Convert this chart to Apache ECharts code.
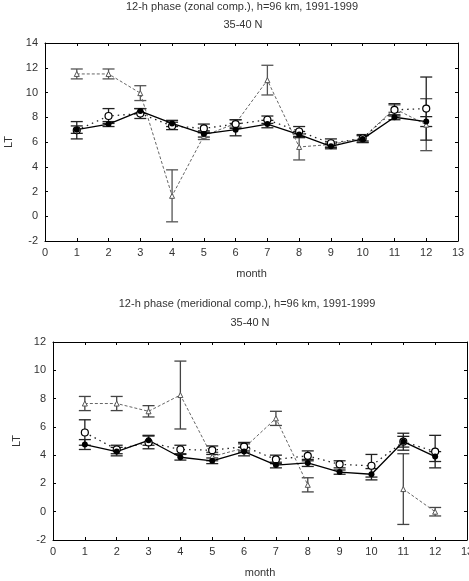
<!DOCTYPE html>
<html>
<head>
<meta charset="utf-8">
<script src="https://cdn.jsdelivr.net/npm/echarts@6/dist/echarts.min.js"></script>
<style>
  html, body { margin: 0; padding: 0; background: #fff; }
  #main { width: 469px; height: 581px; }
</style>
</head>
<body>
<div id="main"></div>
<script>
var months = [1, 2, 3, 4, 5, 6, 7, 8, 9, 10, 11, 12];

// zonal component
var zonalA    = [7.0, 7.45, 8.5, 7.5, 6.65, 7.0, 7.45, 6.6, 5.65, 6.25, 8.0, 7.65];
var zonalAErr = [0.3, 0.2, 0.2, 0.25, 0.25, 0.5, 0.3, 0.25, 0.2, 0.3, 0.2, 0.4];
var zonalB    = [6.95, 8.1, 8.3, 7.3, 7.1, 7.45, 7.8, 6.85, 5.9, 6.3, 8.6, 8.7];
var zonalBErr = [0.7, 0.6, 0.4, 0.3, 0.35, 0.35, 0.3, 0.4, 0.35, 0.3, 0.5, 2.55];
var zonalC    = [11.5, 11.5, 9.95, 1.65, 6.5, 7.5, 11.0, 5.6, 5.8, 6.3, 8.7, 7.4];
var zonalCErr = [0.4, 0.4, 0.6, 2.1, 0.3, 0.3, 1.2, 1.05, 0.2, 0.2, 0.3, 2.1];

// meridional component
var merA    = [4.75, 4.25, 5.05, 3.85, 3.6, 4.25, 3.3, 3.45, 2.8, 2.65, 4.95, 3.9];
var merAErr = [0.35, 0.3, 0.35, 0.2, 0.2, 0.3, 0.2, 0.25, 0.15, 0.4, 0.38, 0.35];
var merB    = [5.6, 4.4, 4.9, 4.4, 4.35, 4.6, 3.7, 3.95, 3.35, 3.25, 4.95, 4.25];
var merBErr = [0.9, 0.3, 0.45, 0.3, 0.3, 0.3, 0.3, 0.35, 0.25, 0.8, 0.6, 1.15];
var merC    = [7.65, 7.65, 7.1, 8.25, 3.9, 4.5, 6.6, 1.9, null, null, 1.6, 0.0];
var merCErr = [0.5, 0.5, 0.4, 2.4, 0.3, 0.3, 0.5, 0.5, null, null, 2.5, 0.3];

var font = 'Liberation Sans, Arial, sans-serif';

var pairs = function(vals) {
  return months.map(function(m, i) { return [m, vals[i]]; });
};

var errRows = function(vals, errs) {
  var out = [];
  months.forEach(function(m, i) {
    if (vals[i] != null) out.push([m, vals[i], errs[i]]);
  });
  return out;
};

var errSeries = function(idx, vals, errs, color) {
  return {
    type: 'custom',
    xAxisIndex: idx * 2,
    yAxisIndex: idx * 2,
    z: 2,
    silent: true,
    data: errRows(vals, errs),
    renderItem: function(params, api) {
      var m = api.value(0), v = api.value(1), e = api.value(2);
      var top = api.coord([m, v + e]);
      var bot = api.coord([m, v - e]);
      var w = 6;
      var st = { stroke: color, lineWidth: 1.3 };
      return {
        type: 'group',
        children: [
          { type: 'line', shape: { x1: top[0], y1: top[1], x2: bot[0], y2: bot[1] }, style: st },
          { type: 'line', shape: { x1: top[0] - w, y1: top[1], x2: top[0] + w, y2: top[1] }, style: st },
          { type: 'line', shape: { x1: bot[0] - w, y1: bot[1], x2: bot[0] + w, y2: bot[1] }, style: st }
        ]
      };
    }
  };
};

var lineSeries = function(idx, vals, kind) {
  var s = {
    type: 'line',
    xAxisIndex: idx * 2,
    yAxisIndex: idx * 2,
    z: 3,
    data: pairs(vals),
    connectNulls: false,
    silent: true
  };
  if (kind === 'A') {
    s.symbol = 'circle';
    s.symbolSize = 6;
    s.itemStyle = { color: '#000' };
    s.lineStyle = { color: '#000', width: 1.3 };
  } else if (kind === 'B') {
    s.symbol = 'circle';
    s.symbolSize = 7;
    s.itemStyle = { color: '#fff', borderColor: '#000', borderWidth: 1.2 };
    s.lineStyle = { color: '#222', width: 1.3, type: [1.5, 4] };
  } else {
    s.symbol = 'triangle';
    s.symbolSize = 5;
    s.itemStyle = { color: '#fff', borderColor: '#555', borderWidth: 1 };
    s.lineStyle = { color: '#666', width: 1, type: [3, 2] };
  }
  return s;
};

var xAxes = function(gi) {
  return [{
    gridIndex: gi, type: 'value', min: 0, max: 13, interval: 1,
    name: 'month', nameLocation: 'middle', nameGap: 27,
    nameTextStyle: { fontFamily: font, fontSize: 11, color: '#333' },
    axisLine: { onZero: false, lineStyle: { color: '#000', width: 1 } },
    axisTick: { inside: true, length: 3, lineStyle: { color: '#000' } },
    axisLabel: { fontFamily: font, fontSize: 11, color: '#333', margin: 6 },
    splitLine: { show: false }
  }, {
    gridIndex: gi, type: 'value', position: 'top', min: 0, max: 13, interval: 1,
    axisLine: { onZero: false, lineStyle: { color: '#000', width: 1 } },
    axisTick: { inside: true, length: 3, lineStyle: { color: '#000' } },
    axisLabel: { show: false },
    splitLine: { show: false }
  }];
};

var yAxes = function(gi, max, gap) {
  return [{
    gridIndex: gi, type: 'value', min: -2, max: max, interval: 2,
    name: 'LT', nameLocation: 'middle', nameGap: gap, nameRotate: 90,
    nameTextStyle: { fontFamily: font, fontSize: 11, color: '#333' },
    axisLine: { show: true, onZero: false, lineStyle: { color: '#000', width: 1 } },
    axisTick: { show: true, inside: true, length: 3, lineStyle: { color: '#000' } },
    axisLabel: { fontFamily: font, fontSize: 11, color: '#333', margin: 7 },
    splitLine: { show: false }
  }, {
    gridIndex: gi, type: 'value', position: 'right', min: -2, max: max, interval: 2,
    axisLine: { show: true, onZero: false, lineStyle: { color: '#000', width: 1 } },
    axisTick: { show: true, inside: true, length: 3, lineStyle: { color: '#000' } },
    axisLabel: { show: false },
    splitLine: { show: false }
  }];
};

var titleText = function(txt, x, y) {
  return {
    type: 'text', x: x, y: y,
    style: { text: txt, font: '11px ' + font, fill: '#333', textAlign: 'center', textVerticalAlign: 'middle' }
  };
};

var chart = echarts.init(document.getElementById('main'));

var option = {
  animation: false,
  backgroundColor: '#fff',
  grid: [
    { left: 45, top: 43, width: 413, height: 198, outerBoundsMode: 'none', containLabel: false },
    { left: 53, top: 342, width: 414, height: 198, outerBoundsMode: 'none', containLabel: false }
  ],
  xAxis: xAxes(0).concat(xAxes(1)),
  yAxis: yAxes(0, 14, 28).concat(yAxes(1, 12, 30)),
  graphic: [
    titleText('12-h phase (zonal comp.), h=96 km, 1991-1999', 242, 7),
    titleText('35-40 N', 243, 25),
    titleText('12-h phase (meridional comp.), h=96 km, 1991-1999', 247, 304),
    titleText('35-40 N', 250, 323)
  ],
  series: [
    errSeries(0, zonalC, zonalCErr, '#555'),
    errSeries(0, zonalB, zonalBErr, '#222'),
    errSeries(0, zonalA, zonalAErr, '#222'),
    lineSeries(0, zonalC, 'C'),
    lineSeries(0, zonalB, 'B'),
    lineSeries(0, zonalA, 'A'),
    errSeries(1, merC, merCErr, '#444'),
    errSeries(1, merB, merBErr, '#222'),
    errSeries(1, merA, merAErr, '#222'),
    lineSeries(1, merC, 'C'),
    lineSeries(1, merB, 'B'),
    lineSeries(1, merA, 'A')
  ]
};

chart.setOption(option);
</script>
</body>
</html>
